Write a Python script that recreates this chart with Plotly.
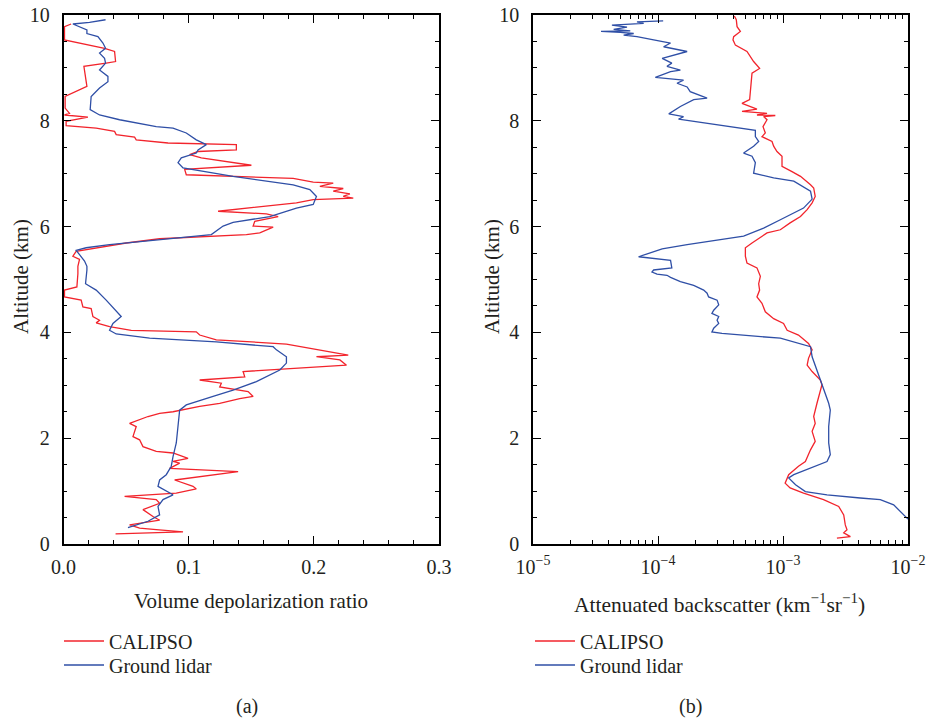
import plotly.graph_objects as go

# ---------------- Panel (a): volume depolarization ratio ----------------
cal_depol = [0.0061, 0.0008, 0.0008, 0.0328, 0.0408, 0.0416, 0.0341, 0.0163, 0.0187, 0.0061,
             0.0013, 0.0013, 0.0048, 0.0008, 0.0195, 0.0021, 0.0021, 0.0261, 0.0408, 0.0421,
             0.0568, 0.0581, 0.0835, 0.1381, 0.1381, 0.1075, 0.1008, 0.1101, 0.1501, 0.0968,
             0.0981, 0.1835, 0.1995, 0.2155, 0.2048, 0.2235, 0.2155, 0.2288, 0.2235, 0.2315,
             0.1995, 0.1861, 0.1235, 0.1621, 0.1715, 0.1528, 0.1515, 0.1675, 0.1568, 0.1461,
             0.0768, 0.0501, 0.0181, 0.0101, 0.0075, 0.0128, 0.0115,
             0.0115, 0.0107, 0.0008, 0.0008, 0.0141, 0.0155, 0.0221, 0.0235, 0.0288, 0.0261,
             0.0368, 0.0541, 0.1061, 0.1088, 0.1221, 0.1781, 0.2048, 0.2275, 0.2021, 0.2208,
             0.2261, 0.2048, 0.1435, 0.1448, 0.1088, 0.1261, 0.1248, 0.1475, 0.1515, 0.1408,
             0.1248, 0.1088, 0.0875, 0.0768, 0.0675, 0.0528, 0.0581, 0.0555, 0.0608, 0.0635,
             0.0741, 0.0875, 0.0995, 0.0875, 0.0928, 0.0848, 0.1395, 0.0888, 0.1035, 0.1061,
             0.0901, 0.0488, 0.0741, 0.0768, 0.0635, 0.0715, 0.0768, 0.0528, 0.0608, 0.0741,
             0.0955, 0.0416]
cal_depol_alt = [9.83, 9.78, 9.53, 9.37, 9.31, 9.12, 9.09, 9.03, 8.65, 8.52,
                 8.46, 8.24, 8.14, 8.11, 8.07, 7.99, 7.91, 7.86, 7.80, 7.74,
                 7.69, 7.64, 7.58, 7.55, 7.45, 7.42, 7.36, 7.30, 7.16, 7.08,
                 6.98, 6.91, 6.84, 6.82, 6.76, 6.72, 6.67, 6.62, 6.57, 6.54,
                 6.51, 6.45, 6.29, 6.24, 6.19, 6.10, 6.01, 5.99, 5.88, 5.85,
                 5.77, 5.69, 5.57, 5.53, 5.44, 5.38, 5.25,
                 5.11, 4.86, 4.80, 4.67, 4.61, 4.48, 4.45, 4.30, 4.23, 4.18,
                 4.11, 4.04, 4.01, 3.95, 3.86, 3.78, 3.67, 3.57, 3.54, 3.48,
                 3.38, 3.35, 3.26, 3.16, 3.10, 3.04, 2.97, 2.88, 2.79, 2.75,
                 2.66, 2.60, 2.50, 2.47, 2.41, 2.28, 2.22, 2.03, 1.97, 1.84,
                 1.75, 1.72, 1.62, 1.56, 1.53, 1.43, 1.37, 1.21, 1.09, 1.04,
                 0.96, 0.90, 0.84, 0.77, 0.65, 0.52, 0.45, 0.36, 0.30, 0.27,
                 0.23, 0.19]

gnd_depol = [0.0336, 0.0208, 0.0075, 0.0187, 0.0187, 0.0275, 0.0315, 0.0336, 0.0288, 0.0328,
             0.0336, 0.0288, 0.0355, 0.0355, 0.0288, 0.0221, 0.0213, 0.0288, 0.0448, 0.0741,
             0.0875, 0.0981, 0.1061, 0.1141, 0.1075, 0.1061, 0.0941, 0.0915, 0.0955, 0.1141,
             0.1355, 0.1835, 0.1968, 0.2021, 0.1995, 0.1861, 0.1648, 0.1355, 0.1275, 0.1181,
             0.0688, 0.0368, 0.0181, 0.0101, 0.0128, 0.0168, 0.0187,
             0.0187, 0.0176, 0.0261, 0.0341, 0.0461, 0.0395, 0.0368, 0.0421, 0.0688, 0.1221,
             0.1675, 0.1701, 0.1781, 0.1781, 0.1728, 0.1541, 0.1355, 0.1195, 0.0981, 0.0928,
             0.0915, 0.0901, 0.0875, 0.0861, 0.0821, 0.0768, 0.0755, 0.0875, 0.0795, 0.0755,
             0.0768, 0.0675, 0.0515]
gnd_depol_alt = [9.91, 9.86, 9.83, 9.72, 9.65, 9.59, 9.47, 9.37, 9.28, 9.18,
                 9.09, 8.96, 8.84, 8.74, 8.62, 8.46, 8.21, 8.11, 8.02, 7.89,
                 7.86, 7.77, 7.64, 7.55, 7.45, 7.39, 7.30, 7.21, 7.11, 7.04,
                 6.95, 6.79, 6.70, 6.57, 6.42, 6.35, 6.19, 6.08, 6.01, 5.85,
                 5.74, 5.66, 5.60, 5.55, 5.47, 5.35, 5.25,
                 5.18, 4.92, 4.80, 4.61, 4.30, 4.17, 4.04, 3.97, 3.89, 3.82,
                 3.73, 3.67, 3.54, 3.42, 3.29, 3.07, 2.91, 2.79, 2.63, 2.53,
                 2.28, 1.91, 1.65, 1.47, 1.31, 1.21, 1.09, 0.93, 0.84, 0.71,
                 0.55, 0.43, 0.31]

# ---------------- Panel (b): attenuated backscatter (km^-1 sr^-1) ----------------
cal_bsc = [4.08e-4, 4.23e-4, 4.29e-4, 4.56e-4, 4.03e-4, 3.98e-4, 4.16e-4, 5.15e-4, 5.82e-4, 6.5e-4,
           5.65e-4, 5.55e-4, 5.48e-4, 5.41e-4, 4.70e-4, 6.19e-4, 4.70e-4, 7.45e-4, 6.19e-4, 8.68e-4,
           7.0e-4, 7.45e-4, 6.92e-4, 7.22e-4, 6.79e-4, 8.17e-4, 8.42e-4, 8.95e-4, 9.82e-4, 9.82e-4,
           1.18e-3, 1.38e-3, 1.66e-3, 1.76e-3, 1.81e-3, 1.71e-3, 1.56e-3, 1.38e-3, 1.14e-3, 9.52e-4,
           7.45e-4, 6.79e-4, 5.65e-4, 5.0e-4, 5.0e-4, 5.15e-4, 6.19e-4, 6.59e-4,
           6.39e-4, 6.5e-4, 6.19e-4, 6.79e-4, 7.22e-4, 8.42e-4, 1.01e-3, 1.08e-3, 1.33e-3, 1.60e-3,
           1.71e-3, 1.60e-3, 1.56e-3, 1.71e-3, 1.99e-3, 2.05e-3, 1.99e-3, 1.87e-3, 1.76e-3, 1.81e-3,
           1.71e-3, 1.81e-3, 1.66e-3, 1.51e-3, 1.33e-3, 1.11e-3, 1.04e-3, 1.14e-3, 1.46e-3, 2.11e-3,
           2.79e-3, 3.06e-3, 3.15e-3, 3.25e-3, 3.06e-3, 3.46e-3, 2.70e-3]
cal_bsc_alt = [9.98, 9.91, 9.78, 9.69, 9.59, 9.53, 9.43, 9.31, 9.12, 8.99,
               8.90, 8.71, 8.52, 8.40, 8.33, 8.22, 8.18, 8.14, 8.11, 8.10,
               8.08, 8.02, 7.89, 7.77, 7.70, 7.61, 7.52, 7.42, 7.33, 7.14,
               7.04, 6.95, 6.79, 6.73, 6.57, 6.45, 6.32, 6.19, 6.07, 5.94,
               5.88, 5.82, 5.69, 5.60, 5.44, 5.31, 5.22, 5.06,
               4.92, 4.80, 4.67, 4.55, 4.39, 4.26, 4.17, 4.04, 3.95, 3.79,
               3.67, 3.51, 3.38, 3.26, 3.10, 3.01, 2.88, 2.66, 2.41, 2.28,
               2.13, 1.94, 1.78, 1.56, 1.47, 1.31, 1.15, 1.06, 0.96, 0.84,
               0.71, 0.55, 0.36, 0.27, 0.21, 0.14, 0.11]

gnd_bsc = [1.10e-4, 6.79e-5, 7.68e-5, 4.28e-5, 5.65e-5, 4.42e-5, 6.0e-5, 3.50e-5, 5.0e-5, 6.39e-5,
           5.31e-5, 6.79e-5, 9.23e-5, 1.26e-4, 1.11e-4, 1.71e-4, 1.08e-4, 1.29e-4, 1.18e-4, 1.51e-4,
           1.26e-4, 9.52e-5, 1.60e-4, 1.42e-4, 1.71e-4, 1.81e-4, 2.47e-4, 1.93e-4, 1.51e-4, 1.22e-4,
           1.60e-4, 1.46e-4, 1.71e-4, 2.79e-4, 4.56e-4, 6.01e-4, 6.01e-4, 6.39e-4, 5.82e-4, 4.84e-4,
           5.65e-4, 6.01e-4, 5.82e-4, 8.42e-4, 1.22e-3, 1.66e-3, 1.71e-3, 1.46e-3, 9.52e-4, 7.0e-4,
           4.84e-4, 2.79e-4, 1.71e-4, 1.08e-4, 7.0e-5, 1.26e-4, 1.29e-4, 9.23e-5,
           8.95e-5, 9.82e-5, 1.18e-4, 1.26e-4, 1.51e-4, 1.93e-4, 2.05e-4, 2.32e-4, 2.47e-4, 2.54e-4,
           2.97e-4, 3.06e-4, 2.79e-4, 2.70e-4, 3.06e-4, 2.97e-4, 3.06e-4, 2.79e-4, 2.70e-4, 3.25e-4,
           9.52e-4, 1.66e-3, 1.71e-3, 1.99e-3, 2.32e-3, 2.39e-3, 2.32e-3, 2.32e-3, 2.39e-3, 2.25e-3,
           1.66e-3, 1.22e-3, 1.11e-3, 1.26e-3, 1.51e-3, 2.25e-3, 4.15e-3, 6.0e-3, 7.68e-3, 8.68e-3,
           1.0e-2]
gnd_bsc_alt = [9.89, 9.87, 9.84, 9.81, 9.77, 9.73, 9.70, 9.69, 9.67, 9.65,
               9.62, 9.59, 9.53, 9.47, 9.40, 9.31, 9.18, 9.09, 9.03, 8.96,
               8.93, 8.82, 8.77, 8.71, 8.64, 8.55, 8.43, 8.40, 8.27, 8.13,
               8.08, 8.03, 8.01, 7.94, 7.86, 7.82, 7.70, 7.61, 7.52, 7.39,
               7.33, 7.21, 7.01, 6.92, 6.86, 6.67, 6.52, 6.35, 6.13, 5.97,
               5.82, 5.74, 5.66, 5.58, 5.43, 5.36, 5.22, 5.18,
               5.14, 5.10, 5.08, 5.04, 4.96, 4.89, 4.86, 4.80, 4.74, 4.67,
               4.61, 4.52, 4.42, 4.36, 4.30, 4.23, 4.17, 4.08, 4.01, 3.98,
               3.89, 3.73, 3.54, 3.10, 2.66, 2.53, 2.22, 1.91, 1.69, 1.56,
               1.43, 1.31, 1.25, 1.12, 0.99, 0.93, 0.87, 0.84, 0.74, 0.62,
               0.47]

series_names = ["CALIPSO", "Ground lidar"]
bsc_ticks = [1e-5, 1e-4, 1e-3, 1e-2]
bsc_ticktext = ["10<sup>−5</sup>", "10<sup>−4</sup>", "10<sup>−3</sup>", "10<sup>−2</sup>"]

RED = "#f2242c"
BLUE = "#2f4fa6"
FONT = "Liberation Serif"
TXT = "#231f20"
W, H = 930, 720

fig = go.Figure()
fig.add_trace(go.Scatter(x=cal_depol, y=cal_depol_alt, mode="lines", name=series_names[0],
                         line=dict(color=RED, width=1.3), xaxis="x", yaxis="y", legend="legend"))
fig.add_trace(go.Scatter(x=gnd_depol, y=gnd_depol_alt, mode="lines", name=series_names[1],
                         line=dict(color=BLUE, width=1.3), xaxis="x", yaxis="y", legend="legend3"))
fig.add_trace(go.Scatter(x=cal_bsc, y=cal_bsc_alt, mode="lines", name=series_names[0],
                         line=dict(color=RED, width=1.3), xaxis="x2", yaxis="y2", legend="legend2"))
fig.add_trace(go.Scatter(x=gnd_bsc, y=gnd_bsc_alt, mode="lines", name=series_names[1],
                         line=dict(color=BLUE, width=1.3), xaxis="x2", yaxis="y2", legend="legend4"))

def px_x(p):
    return p / W

def px_y(p):
    return 1 - p / H

axis_common = dict(showline=True, linecolor="black", linewidth=1.5, mirror="allticks",
                   ticks="inside", ticklen=8, tickwidth=1.2, tickcolor="black",
                   showgrid=False, zeroline=False, automargin=False,
                   tickfont=dict(family=FONT, size=20, color=TXT))
minor_common = dict(ticks="inside", ticklen=4, tickwidth=1.2, tickcolor="black", showgrid=False)

yd = [px_y(544), px_y(15)]
leg_common = dict(xanchor="left", yanchor="middle", font=dict(family=FONT, size=20, color=TXT),
                  bgcolor="rgba(0,0,0,0)", tracegroupgap=0, itemwidth=40)
fig.update_layout(
    width=W, height=H, margin=dict(l=0, r=0, t=0, b=0, autoexpand=False),
    paper_bgcolor="white", plot_bgcolor="white",
    font=dict(family=FONT, size=20, color=TXT),
    xaxis=dict(domain=[px_x(63.5), px_x(439)], range=[0, 0.3], dtick=0.1, tick0=0,
               tickformat=".1f", anchor="y", minor=dict(dtick=0.02, **minor_common),
               ticklabelstandoff=4, **axis_common),
    yaxis=dict(domain=yd, range=[0, 10], dtick=2, tick0=0, anchor="x",
               minor=dict(dtick=0.5, **minor_common), ticklabelstandoff=8, **axis_common),
    xaxis2=dict(domain=[px_x(533), px_x(908)], type="log", range=[-5, -2],
                tickvals=bsc_ticks, ticktext=bsc_ticktext, anchor="y2",
                minor=dict(dtick="D1", **minor_common), ticklabelstandoff=4, **axis_common),
    yaxis2=dict(domain=yd, range=[0, 10], dtick=2, tick0=0, anchor="x2",
                minor=dict(dtick=0.5, **minor_common), ticklabelstandoff=8, **axis_common),
    legend=dict(x=px_x(59), y=px_y(641), **leg_common),
    legend3=dict(x=px_x(59), y=px_y(665), **leg_common),
    legend2=dict(x=px_x(530), y=px_y(641), **leg_common),
    legend4=dict(x=px_x(530), y=px_y(665), **leg_common),
    showlegend=True,
)

annos = [
    dict(text="Volume depolarization ratio", x=px_x(251), y=px_y(601), size=21),
    dict(text="Attenuated backscatter (km<sup>−1</sup>sr<sup>−1</sup>)", x=px_x(719), y=px_y(603), size=21.5),
    dict(text="Altitude (km)", x=px_x(21), y=px_y(277), textangle=-90, size=21),
    dict(text="Altitude (km)", x=px_x(492), y=px_y(277), textangle=-90, size=21),
    dict(text="(a)", x=px_x(247), y=px_y(706), size=20),
    dict(text="(b)", x=px_x(690), y=px_y(706), size=20),
]
for a in annos:
    size = a.pop("size")
    fig.add_annotation(xref="paper", yref="paper", showarrow=False,
                       xanchor="center", yanchor="middle",
                       font=dict(family=FONT, size=size, color=TXT), **a)

fig.write_html("out.html")
